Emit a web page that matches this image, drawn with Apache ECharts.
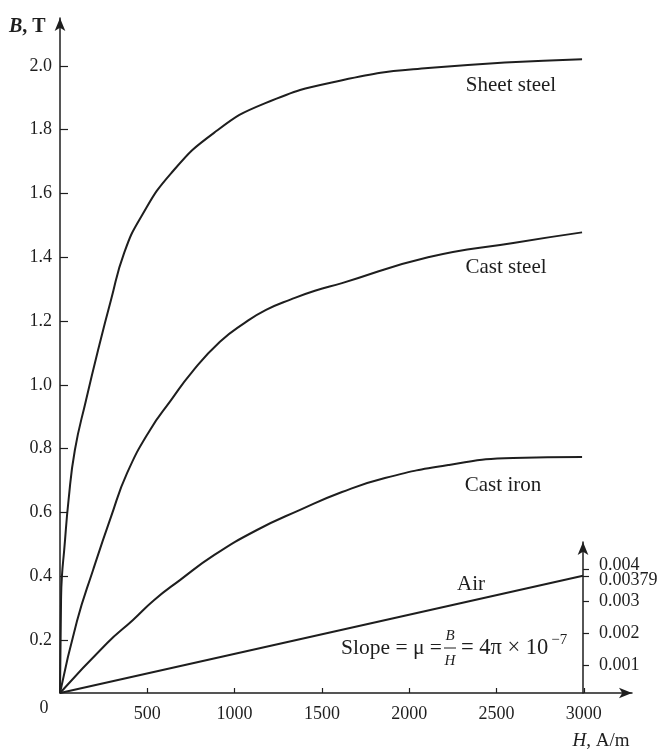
<!DOCTYPE html>
<html>
<head>
<meta charset="utf-8">
<script src="https://cdn.jsdelivr.net/npm/echarts@6/dist/echarts.min.js"></script>
<style>
html,body{margin:0;padding:0;background:#fff;}
#c{width:671px;height:749px;}
</style>
</head>
<body>
<div id="c"></div>
<script>
// ---- data (H in A/m, B in T) ----
const hSheet = [0, 6, 11, 24, 49, 85, 149, 218, 292, 367, 464, 636, 882, 1176, 1616, 2108, 2990];
const bSheet = [0.034, 0.325, 0.4, 0.482, 0.639, 0.795, 0.952, 1.109, 1.266, 1.413, 1.526, 1.663, 1.79, 1.883, 1.955, 1.993, 2.021];

const hCastSteel = [0, 97, 189, 292, 384, 515, 636, 756, 916, 1060, 1180, 1323, 1460, 1615, 2108, 2596, 2990];
const bCastSteel = [0.034, 0.259, 0.419, 0.586, 0.723, 0.858, 0.952, 1.04, 1.135, 1.195, 1.235, 1.268, 1.295, 1.319, 1.4, 1.445, 1.478];

const hCastIron = [0, 269, 418, 538, 687, 882, 1128, 1375, 1615, 1861, 2228, 2595, 2990];
const bCastIron = [0.034, 0.19, 0.263, 0.325, 0.388, 0.466, 0.545, 0.608, 0.664, 0.708, 0.749, 0.771, 0.774];

const hAir = [0, 3000];
const bAir = [0.00015, 0.00379];

const xTicks = [500, 1000, 1500, 2000, 2500, 3000];
const yTicks = [0.2, 0.4, 0.6, 0.8, 1.0, 1.2, 1.4, 1.6, 1.8, 2.0];
const airTicks = [0.001, 0.002, 0.003, 0.00379, 0.004];
const airLabels = [0.001, 0.002, 0.003, 0.004];
const airMarkLabel = [0.00379];

function zip(a, b) { return a.map((v, i) => [v, b[i]]); }

const FONT = 'Liberation Serif';
const INK = '#1e1e1e';

const chart = echarts.init(document.getElementById('c'), null, {renderer: 'canvas'});

const lineCommon = {
  type: 'line', showSymbol: false, smooth: 0.5,
  lineStyle: {color: INK, width: 2}, silent: true, animation: false
};

const option = {
  backgroundColor: '#fff',
  animation: false,
  grid: [
    {left: 60, right: 39, top: 18, bottom: 56, containLabel: false, outerBoundsMode: 'none'},
    {left: 60, right: 88, top: 542, bottom: 56, containLabel: false, outerBoundsMode: 'none'}
  ],
  xAxis: [
    {
      gridIndex: 0, type: 'value', min: 0, max: 3276,
      axisLine: {show: true, onZero: false, symbol: ['none', 'arrow'], symbolSize: [8, 13], lineStyle: {color: INK, width: 1.5}},
      axisTick: {show: true, inside: true, length: 5, customValues: xTicks, lineStyle: {color: INK, width: 1.2}},
      axisLabel: {show: true, customValues: xTicks, margin: 12, fontSize: 18, fontFamily: FONT, color: INK,
        hideOverlap: false, formatter: v => String(v)},
      splitLine: {show: false}
    },
    {gridIndex: 1, type: 'value', min: 0, max: 3000, show: false}
  ],
  yAxis: [
    {
      gridIndex: 0, type: 'value', min: 0.034, max: 2.15,
      axisLine: {show: true, onZero: false, symbol: ['none', 'arrow'], symbolSize: [8, 13], lineStyle: {color: INK, width: 1.5}},
      axisTick: {show: true, inside: true, length: 8, customValues: yTicks, lineStyle: {color: INK, width: 1.2}},
      axisLabel: {show: true, customValues: yTicks, margin: 8, fontSize: 18, fontFamily: FONT, color: INK,
        hideOverlap: false, formatter: v => v.toFixed(1)},
      splitLine: {show: false}
    },
    {
      gridIndex: 1, type: 'value', position: 'right', min: 0.00015, max: 0.00484,
      axisLine: {show: true, onZero: false, symbol: ['none', 'arrow'], symbolSize: [8, 13], lineStyle: {color: INK, width: 1.5}},
      axisTick: {show: true, inside: false, length: 6, customValues: airTicks, lineStyle: {color: INK, width: 1.2}},
      axisLabel: {show: true, customValues: airLabels, margin: 16, fontSize: 18, fontFamily: FONT, color: INK,
        hideOverlap: false,
        formatter: v => (Math.abs(v - 0.004) < 1e-9) ? '{u|0.004}' : String(+v.toFixed(3)),
        rich: {u: {fontSize: 18, fontFamily: FONT, color: INK, padding: [0, 0, 8, 0]}}
      },
      splitLine: {show: false}
    },
    {
      gridIndex: 1, type: 'value', position: 'right', min: 0.00015, max: 0.00484,
      axisLine: {show: false, onZero: false},
      axisTick: {show: false},
      axisLabel: {show: true, customValues: airMarkLabel, margin: 16, fontSize: 18, fontFamily: FONT, color: INK,
        hideOverlap: false,
        formatter: v => '{d|' + v + '}',
        rich: {d: {fontSize: 18, fontFamily: FONT, color: INK, padding: [8, 0, 0, 0]}}
      },
      splitLine: {show: false}
    }
  ],
  series: [
    Object.assign({name: 'Sheet steel', xAxisIndex: 0, yAxisIndex: 0, data: zip(hSheet, bSheet)}, lineCommon),
    Object.assign({name: 'Cast steel', xAxisIndex: 0, yAxisIndex: 0, data: zip(hCastSteel, bCastSteel)}, lineCommon),
    Object.assign({name: 'Cast iron', xAxisIndex: 0, yAxisIndex: 0, data: zip(hCastIron, bCastIron)}, lineCommon),
    Object.assign({}, lineCommon, {name: 'Air', xAxisIndex: 1, yAxisIndex: 1, smooth: false, data: zip(hAir, bAir)})
  ],
  graphic: [
    {type: 'text', x: 9, y: 27, style: {text: '{b|B}{n|, T}', textVerticalAlign: 'middle',
      rich: {b: {fontSize: 20, fontFamily: FONT, fontStyle: 'italic', fontWeight: 'bold', fill: INK},
             n: {fontSize: 20, fontFamily: FONT, fontWeight: 'bold', fill: INK}}}},
    {type: 'text', x: 44, y: 708, style: {text: '0', font: '18px "Liberation Serif"', fill: INK, textAlign: 'center', textVerticalAlign: 'middle'}},
    {type: 'text', x: 601, y: 741, style: {text: '{i|H}{n|, A/m}', textAlign: 'center', textVerticalAlign: 'middle',
      rich: {i: {fontSize: 19, fontFamily: FONT, fontStyle: 'italic', fill: INK},
             n: {fontSize: 19, fontFamily: FONT, fill: INK}}}},
    {type: 'text', x: 511, y: 85, style: {text: 'Sheet steel', font: '21px "Liberation Serif"', fill: INK, textAlign: 'center', textVerticalAlign: 'middle'}},
    {type: 'text', x: 506, y: 267, style: {text: 'Cast steel', font: '21px "Liberation Serif"', fill: INK, textAlign: 'center', textVerticalAlign: 'middle'}},
    {type: 'text', x: 503, y: 485, style: {text: 'Cast iron', font: '21px "Liberation Serif"', fill: INK, textAlign: 'center', textVerticalAlign: 'middle'}},
    {type: 'text', x: 471, y: 584, style: {text: 'Air', font: '21px "Liberation Serif"', fill: INK, textAlign: 'center', textVerticalAlign: 'middle'}},
    {type: 'text', x: 442, y: 648, style: {text: 'Slope = μ =', font: '21.5px "Liberation Serif"', fill: INK, textAlign: 'right', textVerticalAlign: 'middle'}},
    {type: 'text', x: 450, y: 636, style: {text: 'B', font: 'italic 15px "Liberation Serif"', fill: INK, textAlign: 'center', textVerticalAlign: 'middle'}},
    {type: 'line', shape: {x1: 444, y1: 648, x2: 456, y2: 648}, style: {stroke: INK, lineWidth: 1}},
    {type: 'text', x: 450, y: 661, style: {text: 'H', font: 'italic 15px "Liberation Serif"', fill: INK, textAlign: 'center', textVerticalAlign: 'middle'}},
    {type: 'text', x: 461, y: 648, style: {text: '{n|= 4π × 10}{s|−7}', textAlign: 'left', textVerticalAlign: 'middle',
      rich: {n: {fontSize: 22.5, fontFamily: FONT, fill: INK},
             s: {fontSize: 15, fontFamily: FONT, fill: INK, padding: [0, 0, 15, 3]}}}}
  ]
};

chart.setOption(option);
</script>
</body>
</html>
